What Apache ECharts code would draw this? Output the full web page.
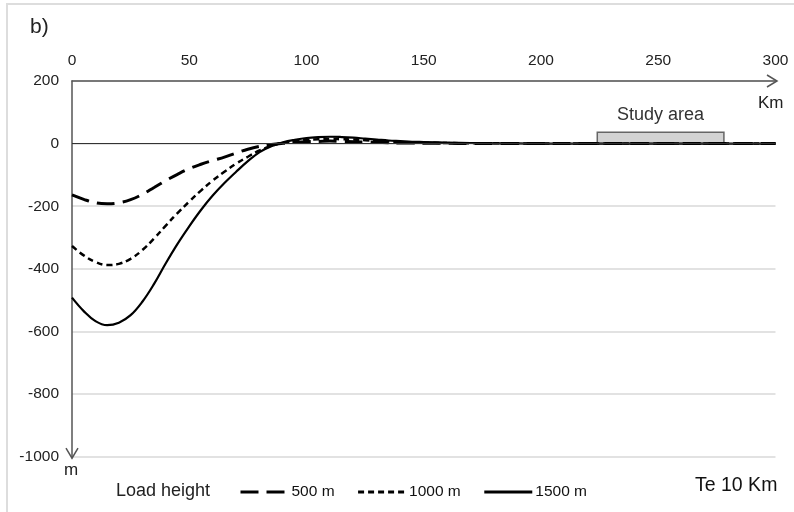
<!DOCTYPE html>
<html>
<head>
<meta charset="utf-8">
<script src="https://cdn.jsdelivr.net/npm/echarts@6/dist/echarts.min.js"></script>
<style>
html,body{margin:0;padding:0;background:#fff;}
#chart{width:794px;height:512px;}
</style>
</head>
<body>
<div id="chart"></div>
<script>
// ---- data ----
const distanceKm = [0,5,10,15,20,25,30,35,40,45,50,55,60,65,70,75,80,85,90,95,100,105,110,115,120,125,130,135,140,145,150,160,170,180,190,200,220,240,260,280,300];
const load500  = [-164,-178,-189,-192,-189,-179,-162,-140,-118,-98,-80,-66,-54,-43,-30,-18,-9,-3,1,4,6,7,8,7,6,5,4,3,2,2,1,1,0,0,0,0,0,0,0,0,0];
const load1000 = [-327,-357,-378,-388,-384,-368,-340,-303,-262,-222,-185,-150,-118,-90,-64,-42,-22,-7,3,8,12,14,15,14,13,11,9,7,5,4,3,2,1,1,0,0,0,0,0,0,0];
const load1500 = [-492,-535,-567,-580,-572,-548,-505,-448,-382,-320,-264,-212,-166,-126,-90,-56,-27,-8,4,12,18,21,22,21,19,16,13,10,8,6,5,3,2,1,0.5,0,0,0,0,0,0];
const seriesNames = ['500 m','1000 m','1500 m'];
const xTicks = [0,50,100,150,200,250,300];
const yTicks = [200,0,-200,-400,-600,-800,-1000];
const studyAreaKm = [224, 278];
const studyAreaTop = 36;

const FONT = "'Liberation Sans', Arial, sans-serif";

function pairs(ys){ return distanceKm.map((x,i)=>[x, ys[i]]); }

const chart = echarts.init(document.getElementById('chart'), null, {renderer:'canvas'});
const option = {
  animation:false,
  backgroundColor:'#fff',
  grid:{left:72, right:18.5, top:81, bottom:55.3, containLabel:false},
  xAxis:{
    type:'value', position:'top', min:0, max:300, interval:50,
    axisLine:{show:true, onZero:false, lineStyle:{color:'#555', width:1.5}},
    axisTick:{show:false},
    splitLine:{show:false},
    axisLabel:{color:'#222', fontSize:15.5, fontFamily:FONT, margin:12,
      formatter:v=> xTicks.includes(v) ? String(v) : ''}
  },
  yAxis:{
    type:'value', min:-1000, max:200, interval:200,
    axisLine:{show:true, onZero:false, lineStyle:{color:'#555', width:1.5}},
    axisTick:{show:false},
    splitLine:{show:true, lineStyle:{color:'#d9d9d9', width:1.5}},
    axisLabel:{color:'#222', fontSize:15.5, fontFamily:FONT, margin:13,
      formatter:v=> yTicks.includes(v) ? String(v) : ''}
  },
  legend:{
    left:239, top:484, padding:0, itemWidth:48, itemHeight:14, itemGap:22,
    data:seriesNames,
    itemStyle:{opacity:0, borderWidth:0},
    lineStyle:{width:3},
    textStyle:{color:'#111', fontSize:15.5, fontFamily:FONT, padding:[0,0,0,-2]},
    selectedMode:false
  },
  series:[
    {name:seriesNames[0], type:'line', data:pairs(load500), smooth:0.4, symbol:'none', showSymbol:false,
     lineStyle:{color:'#000', width:3, type:[18,8]}, itemStyle:{color:'#000'}, z:3},
    {name:seriesNames[1], type:'line', data:pairs(load1000), smooth:0.4, symbol:'none', showSymbol:false,
     lineStyle:{color:'#000', width:2.5, type:[6,4]}, itemStyle:{color:'#000'}, z:3},
    {name:seriesNames[2], type:'line', data:pairs(load1500), smooth:0.4, symbol:'none', showSymbol:false,
     lineStyle:{color:'#000', width:2.2, type:'solid'}, itemStyle:{color:'#000'}, z:3,
     markLine:{silent:true, symbol:'none', label:{show:false},
       lineStyle:{color:'#333', width:1.2, type:'solid'},
       data:[{yAxis:0}]},
     markArea:{silent:true,
       itemStyle:{color:'#d3d3d3', borderColor:'#666', borderWidth:1.5},
       label:{show:true, position:'top', distance:8, formatter:'Study area',
         color:'#333', fontSize:18, fontFamily:FONT},
       data:[[{coord:[studyAreaKm[0], 0]}, {coord:[studyAreaKm[1], studyAreaTop]}]]}
    }
  ]
};
chart.setOption(option);

// decorations: arrows, labels, frame
const pEndX = chart.convertToPixel({gridIndex:0}, [300, 200]);
const pEndY = chart.convertToPixel({gridIndex:0}, [0, -1000]);
const tipX = [pEndX[0] + 1.5, pEndX[1]];
const tipY = [pEndY[0], pEndY[1] + 1.5];
chart.setOption({
  graphic:[
    {type:'rect', shape:{x:7, y:4, width:820, height:540}, style:{fill:'none', stroke:'#dddddd', lineWidth:2}, silent:true, z:-10},
    {type:'polyline', shape:{points:[[tipX[0]-10, tipX[1]-6],[tipX[0], tipX[1]],[tipX[0]-10, tipX[1]+6]]}, style:{stroke:'#555', lineWidth:1.5, fill:'none'}, z:10},
    {type:'line', shape:{x1:pEndX[0], y1:pEndX[1], x2:tipX[0], y2:tipX[1]}, style:{stroke:'#555', lineWidth:1.5}, z:10},
    {type:'polyline', shape:{points:[[tipY[0]-6, tipY[1]-10],[tipY[0], tipY[1]],[tipY[0]+6, tipY[1]-10]]}, style:{stroke:'#555', lineWidth:1.5, fill:'none'}, z:10},
    {type:'line', shape:{x1:pEndY[0], y1:pEndY[1], x2:tipY[0], y2:tipY[1]}, style:{stroke:'#555', lineWidth:1.5}, z:10},
    {type:'text', left:30, top:17, style:{text:'b)', fill:'#222', font:'21px ' + FONT}},
    {type:'text', left:758, top:95, style:{text:'Km', fill:'#222', font:'17px ' + FONT}},
    {type:'text', left:64, top:462, style:{text:'m', fill:'#222', font:'17px ' + FONT}},
    {type:'text', left:116, top:482, style:{text:'Load height', fill:'#222', font:'18px ' + FONT}},
    {type:'text', left:695, top:476, style:{text:'Te 10 Km', fill:'#111', font:'19.5px ' + FONT}}
  ]
});
</script>
</body>
</html>
